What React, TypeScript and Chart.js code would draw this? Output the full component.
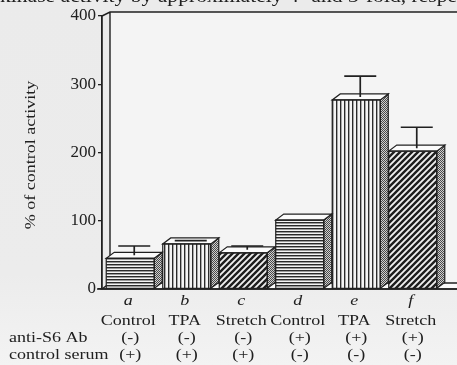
import React, { useEffect, useRef } from "react";
import { Chart, registerables } from "chart.js";
Chart.register(...registerables);

const letters = ["a", "b", "c", "d", "e", "f"];
const treatments = ["Control", "TPA", "Stretch", "Control", "TPA", "Stretch"];
const antiS6 = ["(-)", "(-)", "(-)", "(+)", "(+)", "(+)"];
const controlSerum = ["(+)", "(+)", "(+)", "(-)", "(-)", "(-)"];
const activity = [45, 66, 53, 101, 277, 202];
const errorTop = [63, 71, 63, 101, 312, 237];
const patternKinds = ["h", "v", "d", "h", "v", "d"];
const yMin = 0;
const yMax = 400;
const yStep = 100;
const yTitle = "% of control activity";
const rowTitles = ["anti-S6 Ab", "control serum"];
const captionText = "kinase activity by approximately 4- and 3-fold, respectively";

const SERIF = '"Liberation Serif", "DejaVu Serif", serif';
const INK = "#202020";
const SX = 1.2;

function makePattern(kind: string): CanvasPattern | string {
  const c = document.createElement("canvas");
  const ctx = c.getContext("2d")!;
  if (kind === "h") {
    c.width = 4; c.height = 3;
    ctx.fillStyle = "#f4f4f4"; ctx.fillRect(0, 0, 4, 3);
    ctx.fillStyle = "#2a2a2a"; ctx.fillRect(0, 0, 4, 1);
    ctx.fillStyle = "#9a9a9a"; ctx.fillRect(0, 1, 4, 1);
  } else if (kind === "v") {
    c.width = 4; c.height = 4;
    ctx.fillStyle = "#f4f4f4"; ctx.fillRect(0, 0, 4, 4);
    ctx.fillStyle = "#2a2a2a"; ctx.fillRect(0, 0, 1, 4);
    ctx.fillStyle = "#a8a8a8"; ctx.fillRect(1, 0, 1, 4);
  } else if (kind === "d") {
    c.width = 6; c.height = 6;
    ctx.fillStyle = "#f0f0f0"; ctx.fillRect(0, 0, 6, 6);
    ctx.strokeStyle = "#1e1e1e"; ctx.lineWidth = 2.4;
    ctx.beginPath();
    ctx.moveTo(-1, 7); ctx.lineTo(7, -1);
    ctx.moveTo(-4, 4); ctx.lineTo(4, -4);
    ctx.moveTo(2, 10); ctx.lineTo(10, 2);
    ctx.stroke();
  } else {
    c.width = 2; c.height = 2;
    ctx.fillStyle = "#cfcfcf"; ctx.fillRect(0, 0, 2, 2);
    ctx.fillStyle = "#4a4a4a"; ctx.fillRect(0, 0, 1, 1); ctx.fillRect(1, 1, 1, 1);
  }
  return ctx.createPattern(c, "repeat") || "#888";
}

function sText(ctx: CanvasRenderingContext2D, text: string, x: number, y: number, align: CanvasTextAlign) {
  ctx.save();
  ctx.translate(x, y);
  ctx.scale(SX, 1);
  ctx.textAlign = align;
  ctx.fillText(text, 0, 0);
  ctx.restore();
}

export default function App() {
  const ref = useRef<HTMLCanvasElement | null>(null);
  useEffect(() => {
    const canvas = ref.current!;
    const fills = patternKinds.map((k) => makePattern(k));
    const sideFill = makePattern("s");
    const DX = 8, DY = 6, WDY = 4;

    const deco = {
      id: "deco",
      beforeDraw(chart: any) {
        const ctx = chart.ctx;
        ctx.save();
        const g = ctx.createLinearGradient(0, 0, 0, chart.height);
        g.addColorStop(0, "#ebebeb");
        g.addColorStop(0.75, "#ececec");
        g.addColorStop(1, "#f3f3f3");
        ctx.fillStyle = g;
        ctx.fillRect(0, 0, chart.width, chart.height);
        ctx.fillStyle = INK;
        ctx.font = `18px ${SERIF}`;
        ctx.textBaseline = "alphabetic";
        sText(ctx, captionText, 0, 2, "left");
        ctx.restore();
      },
      beforeDatasetsDraw(chart: any) {
        const ctx = chart.ctx;
        const a = chart.chartArea;
        const W = chart.width;
        ctx.save();
        ctx.fillStyle = "#f4f4f4";
        ctx.fillRect(a.left + DX, a.top - WDY, W - a.left - DX, a.bottom - a.top);
        ctx.strokeStyle = INK;
        ctx.lineWidth = 1.4;
        ctx.beginPath();
        ctx.moveTo(a.left, a.top);
        ctx.lineTo(a.left + DX, a.top - WDY);
        ctx.lineTo(W + 2, a.top - WDY);
        ctx.moveTo(a.left + DX, a.top - WDY);
        ctx.lineTo(a.left + DX, a.bottom - DY);
        ctx.stroke();
        ctx.fillStyle = "#fafafa";
        ctx.beginPath();
        ctx.moveTo(a.left, a.bottom);
        ctx.lineTo(W + 2, a.bottom);
        ctx.lineTo(W + 2, a.bottom - DY);
        ctx.lineTo(a.left + DX, a.bottom - DY);
        ctx.closePath();
        ctx.fill();
        ctx.stroke();
        ctx.beginPath();
        ctx.moveTo(a.left - 5, a.bottom);
        ctx.lineTo(W, a.bottom);
        ctx.lineWidth = 1.6;
        ctx.stroke();
        ctx.restore();
      },
      afterDatasetsDraw(chart: any) {
        const ctx = chart.ctx;
        const meta = chart.getDatasetMeta(0);
        const ys = chart.scales.y;
        ctx.save();
        ctx.strokeStyle = INK;
        ctx.lineWidth = 1.2;
        meta.data.forEach((bar: any, i: number) => {
          const p = bar.getProps(["x", "y", "base", "width"], true);
          const x0 = p.x - p.width / 2;
          const x1 = p.x + p.width / 2;
          const y = p.y;
          const b = p.base;
          ctx.fillStyle = sideFill;
          ctx.beginPath();
          ctx.moveTo(x1, y);
          ctx.lineTo(x1 + DX, y - DY);
          ctx.lineTo(x1 + DX, b - DY);
          ctx.lineTo(x1, b);
          ctx.closePath();
          ctx.fill();
          ctx.stroke();
          ctx.fillStyle = "#fbfbfb";
          ctx.beginPath();
          ctx.moveTo(x0, y);
          ctx.lineTo(x1, y);
          ctx.lineTo(x1 + DX, y - DY);
          ctx.lineTo(x0 + DX, y - DY);
          ctx.closePath();
          ctx.fill();
          ctx.stroke();
          ctx.strokeRect(x0, y, p.width, b - y);
          if (errorTop[i] > activity[i]) {
            const ye = ys.getPixelForValue(errorTop[i]);
            const cx = p.x + DX / 2;
            ctx.save();
            ctx.lineWidth = 1.7;
            ctx.beginPath();
            ctx.moveTo(cx, ye);
            ctx.lineTo(cx, Math.max(ye, y - DY / 2));
            ctx.moveTo(cx - 16, ye);
            ctx.lineTo(cx + 16, ye);
            ctx.stroke();
            ctx.restore();
          }
        });
        ctx.restore();
      },
      afterDraw(chart: any) {
        const ctx = chart.ctx;
        const xs = chart.scales.x;
        ctx.save();
        ctx.fillStyle = INK;
        ctx.textBaseline = "middle";
        letters.forEach((l, i) => {
          const cx = xs.getPixelForValue(i) - 2;
          ctx.font = `italic 15px ${SERIF}`;
          sText(ctx, l, cx, 301, "center");
          ctx.font = `15px ${SERIF}`;
          sText(ctx, treatments[i], cx, 321, "center");
          sText(ctx, antiS6[i], cx + 2, 338, "center");
          sText(ctx, controlSerum[i], cx + 2, 355, "center");
        });
        ctx.font = `15px ${SERIF}`;
        sText(ctx, rowTitles[0], 9, 338, "left");
        sText(ctx, rowTitles[1], 9, 355, "left");
        ctx.translate(31, 155);
        ctx.rotate(-Math.PI / 2);
        sText(ctx, yTitle, 0, 0, "center");
        ctx.restore();
      },
    };

    const chart = new Chart(canvas, {
      type: "bar",
      data: {
        labels: letters,
        datasets: [
          {
            data: activity,
            backgroundColor: fills as any,
            borderWidth: 0,
            barPercentage: 0.85,
            categoryPercentage: 1,
          },
        ],
      },
      options: {
        responsive: false,
        animation: false,
        layout: { padding: { top: 16, bottom: 76, left: 0, right: 16 } },
        plugins: { legend: { display: false }, tooltip: { enabled: false } },
        scales: {
          x: { display: false },
          y: {
            min: yMin,
            max: yMax,
            afterFit(s: any) { s.width = 102; },
            ticks: {
              stepSize: yStep,
              color: INK,
              padding: 2,
              font: { family: SERIF, size: 17 },
            },
            grid: { drawOnChartArea: false, tickLength: 4, color: INK, lineWidth: 1.3 },
            border: { display: true, color: INK, width: 1.8 },
          },
        },
      },
      plugins: [deco],
    });
    return () => chart.destroy();
  }, []);

  return (
    <div style={{ position: "fixed", left: 0, top: 0, width: 457, height: 365 }}>
      <canvas ref={ref} width={457} height={365} style={{ display: "block" }} />
    </div>
  );
}
